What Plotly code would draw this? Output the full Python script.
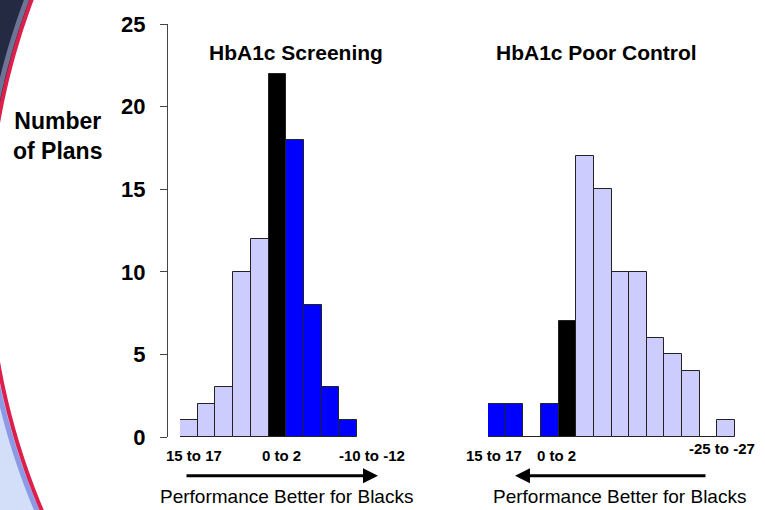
import math
import plotly.graph_objects as go

# ---------------- data ----------------
left_values = [1, 2, 3, 10, 12, 22, 18, 8, 3, 1]
left_groups = ["light"] * 5 + ["black"] + ["blue"] * 4
right_values = [2, 2, 0, 2, 7, 17, 15, 10, 10, 6, 5, 4, 0, 1]
right_groups = ["blue"] * 4 + ["black"] + ["light"] * 9

left_tick_labels = ["15 to 17", "0 to 2", "-10 to -12"]
left_tick_bins = [0, 5, 9]
right_tick_labels = ["15 to 17", "0 to 2", "-25 to -27"]
right_tick_bins = [0, 4, 13]

y_ticks = [0, 5, 10, 15, 20, 25]
titles = ["HbA1c Screening", "HbA1c Poor Control"]
axis_note = "Performance Better for Blacks"
y_title = "Number<br>of Plans"

group_colors = {"light": "#CCCCFF", "black": "#000000", "blue": "#0000FF"}

# ---------------- geometry helpers (decoration / placement) ----------------
W_FIG, H_FIG = 765, 510
ML, MR, MT, MB = 167, 25, 21, 73
PW = W_FIG - ML - MR
PH = H_FIG - MT - MB


def px(X):
    return (X - ML) / PW


def py(Y):
    return (H_FIG - MB - Y) / PH


FONT = "Liberation Sans, Arial, sans-serif"

fig = go.Figure()
fig.add_trace(go.Bar(
    x=list(range(len(left_values))), y=left_values,
    marker=dict(color=[group_colors[g] for g in left_groups],
                line=dict(color="#222222", width=1)),
    xaxis="x", yaxis="y", hoverinfo="skip"))
fig.add_trace(go.Bar(
    x=list(range(len(right_values))), y=right_values,
    marker=dict(color=[group_colors[g] for g in right_groups],
                line=dict(color="#222222", width=1)),
    xaxis="x2", yaxis="y", hoverinfo="skip"))

# ---------------- decorative swirl at left edge ----------------
CX, CY, R = 687.6, 241.0, 700.0


def arc_x(Y, off=0.0):
    return CX - math.sqrt(R * R - (Y - CY) ** 2) + off


def arc_path(y0, y1, off=0.0, close_left=None):
    pts = []
    steps = 40
    for i in range(steps + 1):
        Y = y0 + (y1 - y0) * i / steps
        pts.append((px(arc_x(Y, off)), py(Y)))
    d = "M " + " L ".join(f"{a:.5f},{b:.5f}" for a, b in pts)
    if close_left is not None:
        d += f" L {px(close_left):.5f},{py(y1):.5f} L {px(close_left):.5f},{py(y0):.5f} Z"
    return d


shapes = [
    dict(type="path", xref="paper", yref="paper", layer="below",
         path=arc_path(-10, 241, close_left=-40), fillcolor="#242a42",
         line=dict(width=0)),
    dict(type="path", xref="paper", yref="paper", layer="below",
         path=arc_path(241, 525, close_left=-40), fillcolor="#d3def8",
         line=dict(width=0)),
    dict(type="path", xref="paper", yref="paper", layer="below",
         path=arc_path(-10, 140, off=-5), line=dict(color="#6d7596", width=5)),
    dict(type="path", xref="paper", yref="paper", layer="below",
         path=arc_path(340, 525, off=-5), line=dict(color="#8c9ae6", width=5)),
    dict(type="path", xref="paper", yref="paper", layer="below",
         path=arc_path(-10, 140), line=dict(color="#dd1f4c", width=4)),
    dict(type="path", xref="paper", yref="paper", layer="below",
         path=arc_path(340, 525), line=dict(color="#dd1f4c", width=4)),
]

annotations = []
# chart titles
for t, cx in zip(titles, [296, 596]):
    annotations.append(dict(text=f"<b>{t}</b>", xref="paper", yref="paper",
                            x=px(cx), y=py(50), xanchor="center", yanchor="middle",
                            showarrow=False, font=dict(family=FONT, size=21, color="#000")))
# y title
annotations.append(dict(text=f"<b>{y_title}</b>", xref="paper", yref="paper",
                        x=px(57), y=py(134), xanchor="center", yanchor="middle",
                        align="center", showarrow=False,
                        font=dict(family=FONT, size=23, color="#000")))
# bin labels
left_shift = [5, 4, 24]
for lab, b, s in zip(left_tick_labels, left_tick_bins, left_shift):
    annotations.append(dict(text=f"<b>{lab}</b>", xref="x", yref="paper", x=b, y=py(456),
                            xshift=s, xanchor="center", yanchor="middle", showarrow=False,
                            font=dict(family=FONT, size=15, color="#000")))
right_shift = [-3, -11, -4]
right_y = [456, 456, 449]
for lab, b, s, yy in zip(right_tick_labels, right_tick_bins, right_shift, right_y):
    annotations.append(dict(text=f"<b>{lab}</b>", xref="x2", yref="paper", x=b, y=py(yy),
                            xshift=s, xanchor="center", yanchor="middle", showarrow=False,
                            font=dict(family=FONT, size=15, color="#000")))
# arrows
annotations.append(dict(text="", xref="paper", yref="paper", x=px(378), y=py(476),
                        axref="pixel", ayref="pixel", ax=-(378 - 185), ay=0,
                        showarrow=True, arrowhead=2, arrowsize=1, arrowwidth=3,
                        arrowcolor="#000"))
annotations.append(dict(text="", xref="paper", yref="paper", x=px(515), y=py(476),
                        axref="pixel", ayref="pixel", ax=(707 - 515), ay=0,
                        showarrow=True, arrowhead=2, arrowsize=1, arrowwidth=3,
                        arrowcolor="#000"))
# bottom notes
for cx in [286, 619]:
    annotations.append(dict(text=axis_note, xref="paper", yref="paper",
                            x=px(cx), y=py(497), xanchor="center", yanchor="middle",
                            showarrow=False, font=dict(family=FONT, size=19, color="#000")))

hidden = dict(showline=False, showgrid=False, zeroline=False, showticklabels=False,
              ticks="", fixedrange=True)

fig.update_layout(
    width=W_FIG, height=H_FIG,
    margin=dict(l=ML, r=MR, t=MT, b=MB),
    paper_bgcolor="white", plot_bgcolor="white",
    showlegend=False, bargap=0,
    xaxis=dict(domain=[px(180), px(357)], range=[-0.5, len(left_values) - 0.5],
               anchor="y", **hidden),
    xaxis2=dict(domain=[px(488), px(735)], range=[-0.5, len(right_values) - 0.5],
                anchor="y", **hidden),
    yaxis=dict(range=[0, 25], tickvals=y_ticks, anchor="free", position=0,
               showline=True, linecolor="#444", linewidth=1,
               ticks="outside", ticklen=7, tickcolor="#444", tickwidth=1,
               ticklabelstandoff=10,
               tickfont=dict(family=FONT, size=22, color="#000", weight="bold"),
               showgrid=False, zeroline=False, fixedrange=True),
    shapes=shapes,
    annotations=annotations,
)

fig.write_html("out.html", config={"displayModeBar": False},
               post_script="document.body.style.margin='0';document.body.style.overflow='hidden';")
